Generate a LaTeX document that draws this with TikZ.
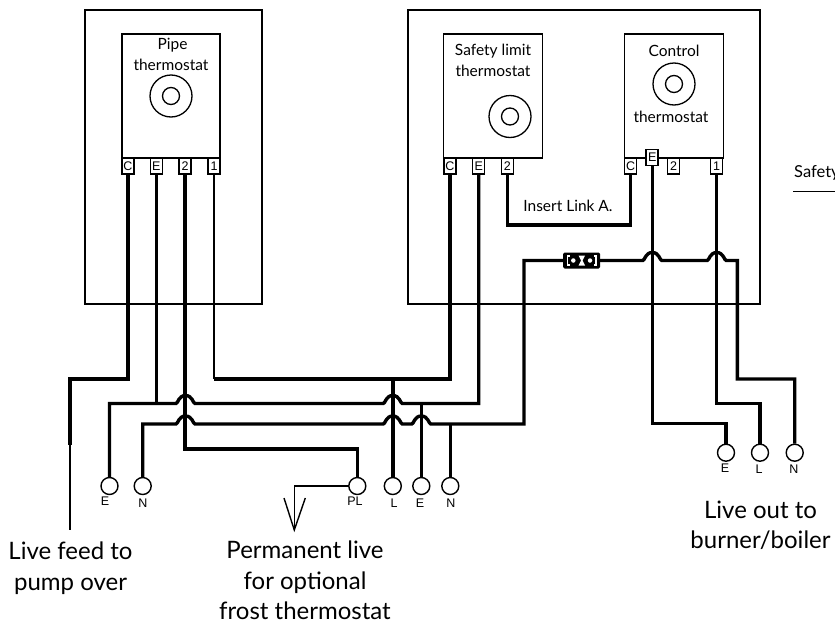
\documentclass[tikz,border=0pt]{standalone}
\usepackage{fontspec}
\setmainfont{Lato}
\newfontfamily\arialfont{Liberation Sans}
\newcommand{\hopat}[2]{-- (#1-9.5,#2) .. controls (#1-7.5,#2) and (#1-7,#2-8) .. (#1,#2-8) .. controls (#1+7,#2-8) and (#1+7.5,#2) .. (#1+9.5,#2)}
\tikzset{
  box/.style={draw=black,line width=1.3pt},
  dial/.style={circle,draw=black,line width=1.3pt,inner sep=0pt},
  term/.style={rectangle,draw=black,line width=1.3pt,fill=white,minimum width=12pt,minimum height=16pt,inner sep=0pt,font=\arialfont\fontsize{12.5}{12.5}\selectfont},
  wire/.style={draw=black,line width=3.4pt,line join=miter},
  fine/.style={draw=black,line width=1.4pt},
  conn/.style={circle,draw=black,line width=1.4pt,fill=white,minimum size=17pt,inner sep=0pt},
  conntext/.style={font=\arialfont\fontsize{12.5}{12.5}\selectfont,inner sep=0pt},
  small/.style={font=\fontsize{15.5}{16}\selectfont,inner sep=0pt},
  big/.style={font=\fontsize{24}{30.5}\selectfont,inner sep=0pt,align=center}
}
\begin{document}
\begin{tikzpicture}[x=1pt,y=-1pt]
\useasboundingbox (0,0) rectangle (835,624);
% housings
\draw[box] (85,10) rectangle (262,304);
\draw[box] (408,10) rectangle (760,304);
% thermostat bodies
\draw[box] (122,34) rectangle (220,158);
\draw[box] (443.5,34) rectangle (542.5,158);
\draw[box] (624.5,34) rectangle (723.5,158);
% dials
\node[dial,minimum size=42pt] (d1o) at (171,96) {};
\node[dial,minimum size=17pt] (d1i) at (171,96) {};
\node[dial,minimum size=42pt] (d2o) at (510,116.5) {};
\node[dial,minimum size=17pt] (d2i) at (510,116.5) {};
\node[dial,minimum size=42pt] (d3o) at (674,84) {};
\node[dial,minimum size=17pt] (d3i) at (674,84) {};
% titles
\node[small] (t1a) at (172.5,45) {Pipe};
\node[small] (t1b) at (171,65) {thermostat};
\node[small] (t2a) at (493,51) {Safety limit};
\node[small] (t2b) at (493,71) {thermostat};
\node[small] (t3a) at (674,51) {Control};
\node[small] (t3b) at (671,117) {thermostat};
\node[small] (lnk) at (568,206) {Insert Link A.};
% connectors (terminals)
\node[conn] (cE1) at (109.5,486) {};
\node[conn] (cN1) at (142.7,486) {};
\node[conn] (cPL) at (357.3,486) {};
\node[conn] (cL) at (392.8,486) {};
\node[conn] (cE2) at (421.3,486) {};
\node[conn] (cN2) at (450.3,486) {};
\node[conn] (cE3) at (726,452.7) {};
\node[conn] (cL3) at (760,452.7) {};
\node[conn] (cN3) at (794.7,452.7) {};
\node[conntext] (lE1) at (105,501) {E};
\node[conntext] (lN1) at (143,503) {N};
\node[conntext] (lPL) at (355,501) {PL};
\node[conntext] (lL) at (394,503) {L};
\node[conntext] (lE2) at (420,503) {E};
\node[conntext] (lN2) at (451,503) {N};
\node[conntext] (lE3) at (725,468) {E};
\node[conntext] (lL3) at (759,469) {L};
\node[conntext] (lN3) at (794,469) {N};
% thermostat terminals
\node[term] (pC) at (128,166) {C};
\node[term] (pE) at (156.3,166) {E};
\node[term] (p2) at (185,166) {2};
\node[term] (p1) at (214,166) {1};
\node[term] (sC) at (450,166) {C};
\node[term] (sE) at (478.7,166) {E};
\node[term] (s2) at (507.3,166) {2};
\node[term] (cC) at (630.7,166) {C};
\node[term,line width=1.9pt] (cE) at (652.3,157.5) {E};
\node[term] (c2) at (673.7,166) {2};
\node[term] (c1) at (716.7,166) {1};
% fuse
\node[rectangle,rounded corners=1.5pt,fill=black,minimum width=37pt,minimum height=16pt,inner sep=0pt] (fuse) at (581.5,260.5) {};
\node[circle,fill=white,minimum size=4.5pt,inner sep=0pt] (fa) at (573.3,260.5) {};
\node[circle,fill=white,minimum size=4.5pt,inner sep=0pt] (fb) at (590,260.5) {};
\fill[white] (578.5,255.5) -- (585,255.5) -- (582.5,260.5) -- (585,265.5) -- (578.5,265.5) -- (581,260.5) -- cycle;
\draw[white,line width=1.2pt] (569.5,256) -- (567.5,256) -- (567.5,265) -- (569.5,265);
\draw[white,line width=1.2pt] (594,256) -- (596,256) -- (596,265) -- (594,265);
% wires
\draw[wire] (pC.south) -- (128,379) -| (70,445);
\draw[fine] (70,445) -- (70,530);
\draw[wire] (pE.south) -- (156.3,403.5);
\draw[wire] (p2.south) -- (185,449) -| (cPL.north);
\draw[fine,line width=2pt] (p1.south) -- (214,379);
\draw[wire] (214,379) -| (sC.south);
\draw[wire] (392.8,379) -- (cL.north);
\draw[wire] (cE1.north) |- (156.3,403.5) \hopat{185.5}{403.5} \hopat{392.8}{403.5} -| (sE.south);
\draw[wire] (421.3,403.5) -- (cE2.north);
\draw[wire] (cN1.north) |- (170,424) \hopat{185.5}{424} \hopat{392.8}{424} \hopat{421.3}{424} -- (524,424) -- (524,260.5) -- (fuse.west);
\draw[wire] (450.3,424) -- (cN2.north);
\draw[wire] (s2.south) -- (507.3,225) -| (cC.south);
\draw[wire] (fuse.east) \hopat{652.3}{260.5} \hopat{716.7}{260.5} -- (737.3,260.5) -- (737.3,379) -| (cN3.north);
\draw[wire] (cE.south) -- (652.3,423.5) -| (cE3.north);
\draw[wire] (c1.south) -- (716.7,403.5) -| (cL3.north);
% frost thermostat lead
\draw[fine] (cPL.west) -| (294.3,530) coordinate (apex);
\draw[fine] (284,498) -- (apex) -- (305.3,498);
% big captions
\node[big] (cap1) at (70.5,568) {Live feed to\\pump over};
\node[big] (cap2) at (305,580.5) {Permanent live\\for optional\\frost thermostat};
\node[big] (cap3) at (760.5,525.5) {Live out to\\burner/boiler};
% cut-off note at the right edge
\begin{scope}
\clip (780,160) rectangle (835,200);
\node[font=\fontsize{16.5}{17}\selectfont,inner sep=0pt,anchor=west] (saf) at (794,173) {Safety};
\end{scope}
\coordinate (ua) at (793,191.3);
\coordinate (ub) at (835,191.3);
\draw[fine] (ua) -- (ub);
\end{tikzpicture}
\end{document}
